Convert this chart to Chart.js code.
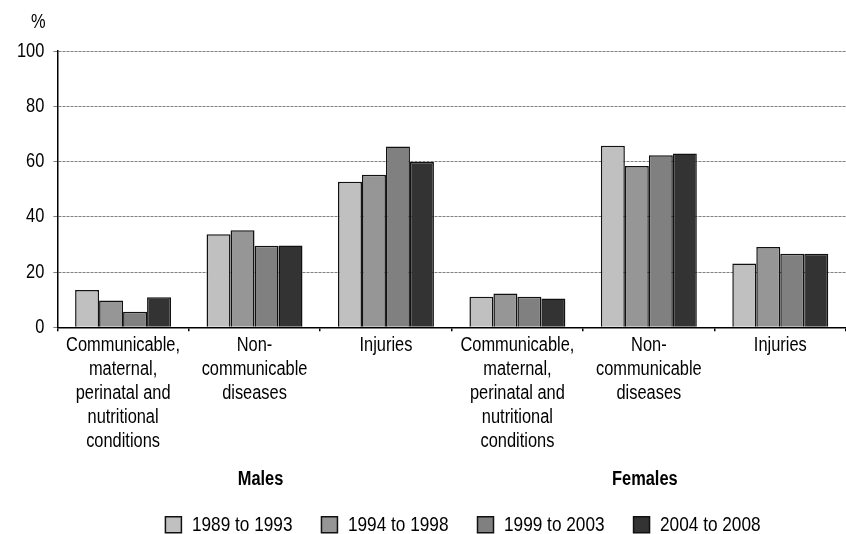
<!DOCTYPE html>
<html>
<head>
<meta charset="utf-8">
<script src="https://cdn.jsdelivr.net/npm/chart.js@4.4.0/dist/chart.umd.min.js"></script>
<style>
html, body { margin: 0; padding: 0; background: #fff; }
#wrap { position: relative; width: 846px; height: 534px; overflow: hidden; }
</style>
</head>
<body>
<div id="wrap"><canvas id="causeChart"></canvas></div>
<script>
// categories (multi-line labels), males first then females
const categories = [
    ['Communicable,', 'maternal,', 'perinatal and', 'nutritional', 'conditions'],
    ['Non-', 'communicable', 'diseases'],
    ['Injuries'],
    ['Communicable,', 'maternal,', 'perinatal and', 'nutritional', 'conditions'],
    ['Non-', 'communicable', 'diseases'],
    ['Injuries']
];
const groups = ['Males', 'Females'];
const periods = ['1989 to 1993', '1994 to 1998', '1999 to 2003', '2004 to 2008'];

// % values
const values1989 = [13.5, 33.7, 52.7, 11.1, 65.7, 23.1];
const values1994 = [9.7, 35.1, 55.2, 12.2, 58.4, 29.1];
const values1999 = [5.6, 29.5, 65.4, 11.1, 62.3, 26.6];
const values2004 = [10.9, 29.6, 59.8, 10.4, 62.9, 26.6];

const yTicks = [0, 20, 40, 60, 80, 100];

const FONT = "'Liberation Sans', Arial, sans-serif";
const NARROW = 0.82; // squeeze Liberation Sans to look like Arial Narrow
const fills = ['#c0c0c0', '#969696', '#808080', '#333333'];
const seriesValues = [values1989, values1994, values1999, values2004];

const canvas = document.getElementById('causeChart');
const ctx = canvas.getContext('2d');

// narrow text: scale glyphs horizontally and report matching widths
const origFill = ctx.fillText.bind(ctx);
const origMeasure = ctx.measureText.bind(ctx);
ctx.fillText = function(text, x, y) {
    ctx.save();
    ctx.translate(x, y);
    ctx.scale(NARROW, 1);
    origFill(text, 0, 0);
    ctx.restore();
};
ctx.measureText = function(text) {
    const m = origMeasure(text);
    return {
        width: m.width * NARROW,
        actualBoundingBoxAscent: m.actualBoundingBoxAscent,
        actualBoundingBoxDescent: m.actualBoundingBoxDescent,
        actualBoundingBoxLeft: m.actualBoundingBoxLeft * NARROW,
        actualBoundingBoxRight: m.actualBoundingBoxRight * NARROW
    };
};

const extrasPlugin = {
    id: 'extras',
    afterLayout(chart) {
        // legend sits lower and a bit right of centre in the original
        const lg = chart.legend;
        lg.left += 31; lg.right += 31;
        lg.top += 30; lg.bottom += 30;
    },
    afterDraw(chart) {
        const c = chart.ctx;
        const { chartArea, scales } = chart;
        c.save();
        c.fillStyle = '#000';
        c.textAlign = 'center';
        c.textBaseline = 'middle';
        c.font = '20px ' + FONT;
        c.fillText('%', chartArea.left - 19, chartArea.top - 28.5);
        c.font = 'bold 20px ' + FONT;
        const y = chartArea.bottom + 152;
        c.fillText(groups[0], scales.x.getPixelForValue(1) + 6, y);
        c.fillText(groups[1], scales.x.getPixelForValue(4) - 4, y);
        c.restore();
    }
};

const causeChart = new Chart(ctx, {
    type: 'bar',
    data: {
        labels: categories,
        datasets: periods.map((p, i) => ({
            label: p,
            data: seriesValues[i],
            backgroundColor: fills[i],
            borderColor: '#111',
            borderWidth: 1.5,
            categoryPercentage: 0.73,
            barPercentage: 1.0
        }))
    },
    plugins: [extrasPlugin],
    options: {
        responsive: true,
        maintainAspectRatio: false,
        animation: false,
        events: [],
        layout: {
            padding: { top: 51, left: 8, right: -10, bottom: 18.7 }
        },
        plugins: {
            legend: {
                display: true,
                position: 'bottom',
                labels: {
                    boxWidth: 16,
                    boxHeight: 16,
                    padding: 29,
                    color: '#000',
                    font: { family: FONT, size: 21 }
                }
            },
            title: { display: false },
            tooltip: { enabled: false }
        },
        scales: {
            x: {
                grid: {
                    offset: true,
                    drawOnChartArea: false,
                    drawTicks: true,
                    tickLength: 4,
                    tickColor: '#000',
                    lineWidth: 1.5
                },
                border: { display: true, color: '#000', width: 1.5 },
                ticks: {
                    autoSkip: false,
                    maxRotation: 0,
                    padding: 2,
                    color: '#000',
                    font: { family: FONT, size: 20, lineHeight: 1.2 }
                }
            },
            y: {
                min: 0,
                max: 100,
                afterBuildTicks: axis => {
                    axis.ticks = yTicks.map(v => ({ value: v }));
                },
                grid: {
                    color: '#808080',
                    lineWidth: 1,
                    drawTicks: true,
                    tickLength: 4
                },
                border: { display: true, color: '#000', width: 1.5, dash: [3, 1] },
                ticks: {
                    padding: 9,
                    color: '#000',
                    font: { family: FONT, size: 20 }
                }
            }
        }
    }
});
</script>
</body>
</html>
